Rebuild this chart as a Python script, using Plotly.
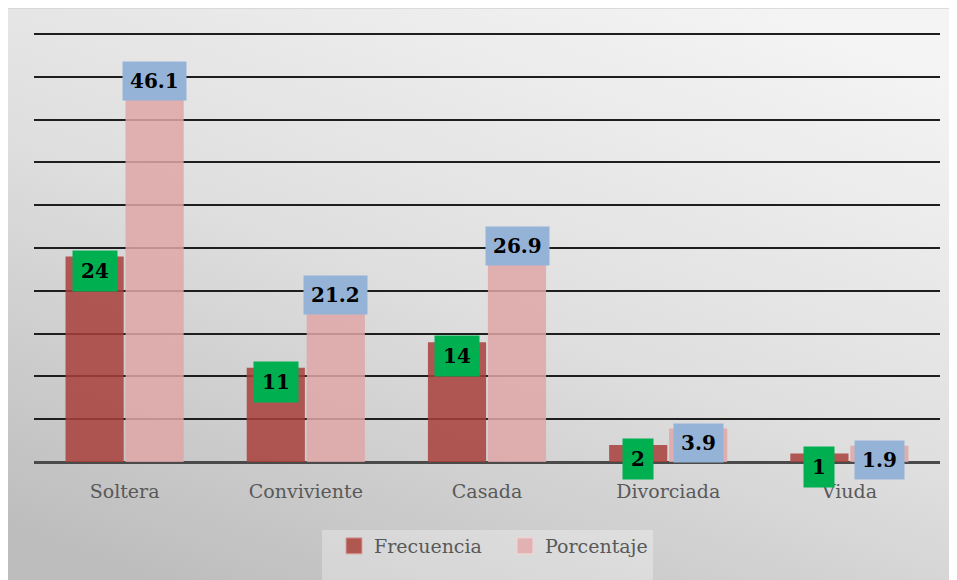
import base64
import plotly.graph_objects as go

# ---- data ----
categories = ["Soltera", "Conviviente", "Casada", "Divorciada", "Viuda"]
frecuencia = [24, 11, 14, 2, 1]
porcentaje = [46.1, 21.2, 26.9, 3.9, 1.9]
freq_labels = ["24", "11", "14", "2", "1"]
pct_labels = ["46.1", "21.2", "26.9", "3.9", "1.9"]

# ---- geometry (page has an 8px body margin) ----
W, H = 957, 580
ML, MT = 26, 22
PW, PH = 906, 432
MR = W - ML - PW
MB = H - MT - PH
# screen-space plot area: x 34..940, y 30..462 ; value 50 lands at y=34
YMAX = 50 * PH / 428.0


def px2x(px):
    return (px - 34) / PW


def py2y(py):
    return (462 - py) / PH


FONT = "DejaVu Serif"

svg = (
    '<svg xmlns="http://www.w3.org/2000/svg" width="960" height="580" preserveAspectRatio="none">'
    '<defs><linearGradient id="g" x1="0.8" y1="0" x2="0.2" y2="1">'
    '<stop offset="0" stop-color="#F4F4F4"/>'
    '<stop offset="0.5" stop-color="#DFDFDF"/>'
    '<stop offset="1" stop-color="#BDBDBD"/>'
    '</linearGradient></defs>'
    '<rect x="0" y="0" width="960" height="580" fill="url(#g)"/>'
    '</svg>'
)
src = "data:image/svg+xml;base64," + base64.b64encode(svg.encode()).decode()

fig = go.Figure()

fig.add_trace(go.Bar(
    x=categories, y=frecuencia, name="Frecuencia",
    marker=dict(color="rgba(168,64,60,0.85)", line=dict(width=0)),
    showlegend=False, hoverinfo="x+y",
))
fig.add_trace(go.Bar(
    x=categories, y=porcentaje, name="Porcentaje",
    marker=dict(color="rgba(223,166,166,0.85)", line=dict(width=0)),
    showlegend=False, hoverinfo="x+y",
))

# legend proxies
fig.add_trace(go.Scatter(
    x=[None], y=[None], mode="markers", name="Frecuencia",
    marker=dict(symbol="square", size=18, color="#B0574F",
                line=dict(color="#D9A0A0", width=1)),
))
fig.add_trace(go.Scatter(
    x=[None], y=[None], mode="markers", name="Porcentaje",
    marker=dict(symbol="square", size=18, color="#E2B2B2",
                line=dict(color="#F2D6D6", width=1)),
))

annotations = []
for c, v, t in zip(categories, frecuencia, freq_labels):
    annotations.append(dict(
        x=c, y=v, xref="x", yref="y", text=t, showarrow=False,
        xshift=-30, yshift=-14, yanchor="middle", xanchor="center",
        bgcolor="#00B050", borderpad=8,
        font=dict(family=FONT, size=20, color="#000000", weight="bold"),
    ))
for c, v, t in zip(categories, porcentaje, pct_labels):
    annotations.append(dict(
        x=c, y=v, xref="x", yref="y", text=t, showarrow=False,
        xshift=30, yshift=-14, yanchor="middle", xanchor="center",
        bgcolor="#95B3D7", borderpad=7,
        font=dict(family=FONT, size=20, color="#000000", weight="bold"),
    ))

shapes = [
    dict(type="rect", xref="paper", yref="paper",
         x0=px2x(7), x1=px2x(975), y0=py2y(8), y1=py2y(600),
         line=dict(color="#D4D4D4", width=1.5), fillcolor="rgba(0,0,0,0)",
         layer="below"),
    dict(type="rect", xref="paper", yref="paper",
         x0=px2x(322), x1=px2x(653), y0=py2y(530), y1=py2y(600),
         line=dict(width=0), fillcolor="rgba(255,255,255,0.3)", layer="below"),
]

fig.update_layout(
    width=W, height=H,
    margin=dict(l=ML, r=MR, t=MT, b=MB, autoexpand=False),
    paper_bgcolor="#FFFFFF",
    plot_bgcolor="rgba(0,0,0,0)",
    barmode="group", bargap=0.338, bargroupgap=0.03,
    images=[dict(source=src, xref="paper", yref="paper",
                 x=px2x(7), y=py2y(8), sizex=(975 - 7) / PW, sizey=(600 - 8) / PH,
                 xanchor="left", yanchor="top", sizing="stretch", layer="below")],
    shapes=shapes,
    annotations=annotations,
    showlegend=True,
    legend=dict(
        orientation="h", x=px2x(334), xanchor="left", y=py2y(527), yanchor="top",
        bgcolor="rgba(0,0,0,0)", entrywidth=126, entrywidthmode="pixels",
        font=dict(family=FONT, size=19, color="#595959"),
        itemsizing="trace",
    ),
    xaxis=dict(
        showgrid=False, showline=False, zeroline=False,
        ticks="outside", ticklen=12, tickcolor="rgba(0,0,0,0)",
        tickfont=dict(family=FONT, size=19, color="#595959"),
        fixedrange=True,
    ),
    yaxis=dict(
        range=[0, YMAX], tick0=0, dtick=5, showticklabels=False,
        showgrid=True, gridcolor="#1E1E1E", gridwidth=2,
        zeroline=True, zerolinecolor="#4A4A4A", zerolinewidth=3,
        showline=False, ticks="", fixedrange=True,
    ),
)

fig.write_html("out.html")
